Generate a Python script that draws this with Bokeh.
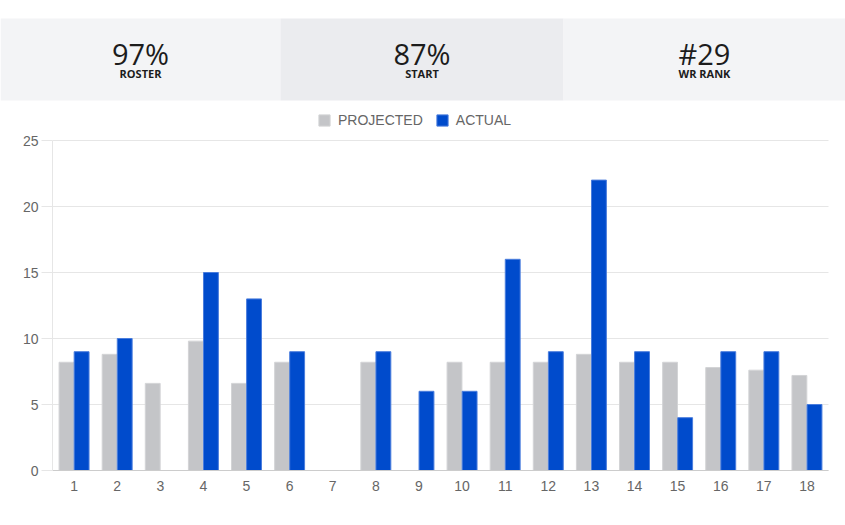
from bokeh.plotting import figure
from bokeh.models import Legend, LegendItem, FixedTicker, Range1d, BoxAnnotation, Label
from bokeh.embed import file_html
from bokeh.resources import INLINE

weeks = list(range(1, 19))
projected = [8.2, 8.8, 6.6, 9.8, 6.6, 8.2, None, 8.2, None, 8.2, 8.2, 8.2, 8.8, 8.2, 8.2, 7.8, 7.6, 7.2]
actual = [9, 10, None, 15, 13, 9, None, 9, 6, 6, 16, 9, 22, 9, 4, 9, 9, 5]
stat_values = ["97%", "87%", "#29"]
stat_labels = ["ROSTER", "START", "WR RANK"]
series_names = ["PROJECTED", "ACTUAL"]
y_ticks = [0, 5, 10, 15, 20, 25]

W, H = 845, 525
ML, MR, MT, MB = 52, 17, 140, 55      # where the plotting area sits in the canvas
X0, X1 = 0.5, 18.5
Y0, Y1 = 0, 25
sx = (W - ML - MR) / (X1 - X0)
sy = (H - MT - MB) / (Y1 - Y0)

# the frame spans the whole canvas, so the header can be drawn without clipping
p = figure(width=W, height=H,
           x_range=Range1d(X0 - ML / sx, X1 + MR / sx),
           y_range=Range1d(Y0 - MB / sy, Y1 + MT / sy),
           output_backend="svg", toolbar_location=None, min_border=0)
p.outline_line_color = None
p.grid.visible = False

def fy(y):  # canvas y (from top) -> screen y (from bottom)
    return H - y

# ---------- header ----------
lefts = [0, 280, 563]
rights = [280, 563, 845]
fills = ["#f3f4f6", "#ebecef", "#f3f4f6"]
for l, r, c in zip(lefts, rights, fills):
    p.add_layout(BoxAnnotation(left=l, right=r, top=fy(18), bottom=fy(100),
                               left_units="screen", right_units="screen",
                               top_units="screen", bottom_units="screen",
                               fill_color=c, fill_alpha=1, line_color=None, level="underlay"))
for l, r, v, t in zip(lefts, rights, stat_values, stat_labels):
    c = (l + r) / 2
    p.add_layout(Label(x=c, y=fy(53), x_units="screen", y_units="screen", text=v,
                       text_align="center", text_baseline="middle",
                       text_font="Open Sans", text_font_size="29px", text_color="#1c1c1c"))
    p.add_layout(Label(x=c, y=fy(73), x_units="screen", y_units="screen", text=t,
                       text_align="center", text_baseline="middle",
                       text_font="Open Sans", text_font_size="11px", text_font_style="bold",
                       text_color="#1c1c1c"))

# ---------- gridlines ----------
p.segment(x0=[X0] * len(y_ticks), x1=[X1] * len(y_ticks), y0=y_ticks, y1=y_ticks,
          line_color="#e6e6e6", line_width=1, level="underlay")

# ---------- bars ----------
px = [w - 0.175 for w, v in zip(weeks, projected) if v is not None]
pv = [v for v in projected if v is not None]
ax = [w + 0.175 for w, v in zip(weeks, actual) if v is not None]
av = [v for v in actual if v is not None]

r1 = p.vbar(x=px, top=pv, width=0.345, fill_color="#c4c5c8", line_color="#d3d4d6", line_width=1)
r2 = p.vbar(x=ax, top=av, width=0.345, fill_color="#004bcc", line_color="#4a7ddd", line_width=1)

# ---------- axes ----------
p.yaxis.fixed_location = X0
p.xaxis.fixed_location = Y0
p.yaxis.bounds = (Y0, Y1)
p.xaxis.bounds = (X0, X1)
p.yaxis.ticker = FixedTicker(ticks=y_ticks)
p.xaxis.ticker = FixedTicker(ticks=weeks)
for a in (p.xaxis[0], p.yaxis[0]):
    a.major_label_text_font = "Liberation Sans"
    a.major_label_text_font_size = "14px"
    a.major_label_text_color = "#666666"
    a.minor_tick_line_color = None
p.yaxis.axis_line_color = "#e6e6e6"
p.yaxis.major_tick_line_color = "#e6e6e6"
p.yaxis.major_tick_out = 11
p.yaxis.major_tick_in = 0
p.yaxis.major_label_standoff = 3
p.xaxis.axis_line_color = "#cccccc"
p.xaxis.major_tick_line_color = None
p.xaxis.major_tick_out = 0
p.xaxis.major_tick_in = 0
p.xaxis.major_label_standoff = 10

legend = Legend(items=[LegendItem(label=series_names[0], renderers=[r1]),
                       LegendItem(label=series_names[1], renderers=[r2])],
                orientation="horizontal", location=(317, fy(128)),
                label_text_font="Liberation Sans", label_text_font_size="14px",
                label_text_color="#666666", glyph_width=14, glyph_height=14,
                label_standoff=7, spacing=12, padding=4, margin=0,
                border_line_color=None, background_fill_alpha=0)
p.add_layout(legend, "center")

open("out.html", "w").write(file_html(p, INLINE))
